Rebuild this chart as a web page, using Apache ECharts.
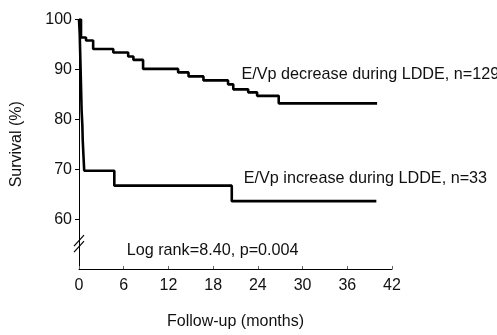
<!DOCTYPE html>
<html>
<head>
<meta charset="utf-8">
<script src="https://cdn.jsdelivr.net/npm/echarts@6/dist/echarts.min.js"></script>
<style>
  html, body { margin: 0; padding: 0; background: #ffffff; }
  #chart { width: 497px; height: 335px; }
</style>
</head>
<body>
<div id="chart"></div>
<script>
// Kaplan-Meier survival curves: [month, survival %] after each event
const decreaseCurve = [
  [0, 100], [0.27, 96.4], [0.94, 95.8], [1.9, 94.1], [4.6, 93.4],
  [6.6, 92.6], [7.3, 91.9], [8.6, 90.1], [13.3, 89.4], [14.7, 88.6],
  [16.7, 87.8], [20.0, 87.0], [20.7, 86.0], [22.7, 85.4], [23.9, 84.7],
  [26.8, 83.2], [40.0, 83.2]
];
const increaseCurve = [
  [0, 100], [0.1, 97.0], [0.15, 93.9], [0.2, 90.9], [0.25, 87.9],
  [0.3, 84.8], [0.35, 81.8], [0.45, 78.8], [0.5, 75.8], [0.6, 72.7],
  [0.7, 69.7], [4.74, 66.7], [20.5, 63.6], [39.9, 63.6]
];
const xTicks = [0, 6, 12, 18, 24, 30, 36, 42];
const yTicks = [60, 70, 80, 90, 100];

const decreaseLabel = 'E/Vp decrease during LDDE, n=129';
const increaseLabel = 'E/Vp increase during LDDE, n=33';
const statsLabel = 'Log rank=8.40, p=0.004';
// anchor points (month, survival %) of the text notes
const decreaseLabelAt = [21.8, 89.0];
const increaseLabelAt = [22.1, 68.1];
const statsLabelAt = [6.4, 53.6];
const axisBreakAt = 55;

const FONT = '"Liberation Sans", Arial, sans-serif';
const chart = echarts.init(document.getElementById('chart'));

const option = {
  backgroundColor: '#ffffff',
  animation: false,
  grid: { left: 79, right: 105, top: 19.5, bottom: 65.5, containLabel: false },
  xAxis: {
    type: 'value',
    min: 0, max: 42, interval: 6,
    name: 'Follow-up (months)',
    nameLocation: 'middle',
    nameGap: 45,
    nameTextStyle: { fontFamily: FONT, fontSize: 16, color: '#111' },
    axisLine: { lineStyle: { color: '#000', width: 1 } },
    axisTick: { show: true, inside: true, length: 3, lineStyle: { color: '#666' }, customValues: xTicks },
    axisLabel: { fontFamily: FONT, fontSize: 16, color: '#111', margin: 9, customValues: xTicks },
    splitLine: { show: false }
  },
  yAxis: {
    type: 'value',
    min: 50, max: 100, interval: 10,
    name: 'Survival (%)',
    nameLocation: 'middle',
    nameGap: 54,
    nameTextStyle: { fontFamily: FONT, fontSize: 16, color: '#111' },
    axisLine: { show: true, lineStyle: { color: '#000', width: 1 } },
    axisTick: { show: true, length: 4, lineStyle: { color: '#000' }, customValues: yTicks },
    axisLabel: { fontFamily: FONT, fontSize: 16, color: '#111', margin: 7, customValues: yTicks },
    splitLine: { show: false }
  },
  series: [
    {
      name: decreaseLabel,
      type: 'line', step: 'end', symbol: 'none',
      data: decreaseCurve,
      lineStyle: { color: '#000', width: 2.6 }
    },
    {
      name: increaseLabel,
      type: 'line', step: 'end', symbol: 'none',
      data: increaseCurve,
      lineStyle: { color: '#000', width: 2.6 }
    }
  ]
};
chart.setOption(option);

// text notes and the y-axis break mark, placed via the axes' own scales
function placeOverlays() {
  const p = (pt) => chart.convertToPixel({ gridIndex: 0 }, pt);
  const textEl = (txt, at) => {
    const [x, y] = p(at);
    return {
      type: 'text', x: x, y: y,
      style: { text: txt, fill: '#111', font: '16.2px ' + FONT, textVerticalAlign: 'middle', textAlign: 'left' }
    };
  };
  const [bx, by] = p([0, axisBreakAt]);
  const slash = (dy) => ({
    type: 'line',
    shape: { x1: bx - 5, y1: by + 5 + dy, x2: bx + 5, y2: by - 6 + dy },
    style: { stroke: '#000', lineWidth: 1.2 }
  });
  chart.setOption({
    graphic: [
      { type: 'rect', shape: { x: bx - 2, y: by - 5, width: 4, height: 5 }, style: { fill: '#fff' } },
      slash(-3), slash(3),
      textEl(decreaseLabel, decreaseLabelAt),
      textEl(increaseLabel, increaseLabelAt),
      textEl(statsLabel, statsLabelAt)
    ]
  });
}
placeOverlays();
</script>
</body>
</html>
